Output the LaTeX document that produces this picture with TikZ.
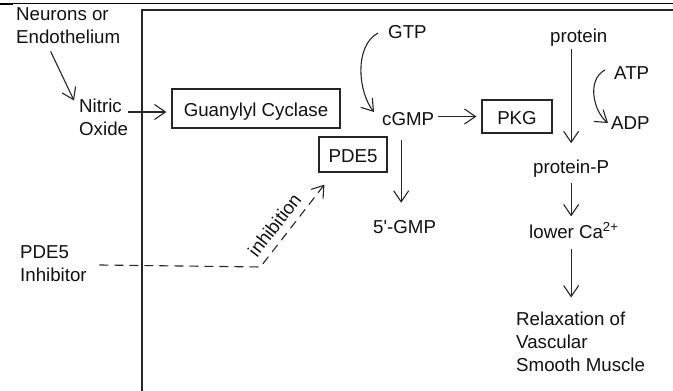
\documentclass[tikz,border=0pt]{standalone}
\usepackage{fontspec}
\setmainfont{Liberation Sans}
\usetikzlibrary{arrows.meta,calc}
\definecolor{tc}{HTML}{111111}
\definecolor{lc}{HTML}{262626}
\newcommand\dgfont{\fontsize{18.7}{23.3}\selectfont}
\begin{document}
\begin{tikzpicture}[x=1pt,y=-1pt,
  every node/.style={font=\dgfont,text=tc},
  txt/.style={inner sep=0pt,anchor=base west},
  boxn/.style={draw=lc,line width=1.1pt,inner sep=0pt,text height=15.5pt,text depth=0pt},
  arr/.style={draw=lc,line width=1.1pt,-{Straight Barb[length=11pt,width=15pt]}},
  dasharr/.style={arr,dash pattern=on 9pt off 6pt},
  ]
\useasboundingbox (0,0) rectangle (673,391);
% frame lines
\draw[black,line width=0.9pt] (0,3.5) -- (673,3.5);
\draw[black,line width=2pt] (0,3.5) -- (13,3.5);
\draw[lc,line width=1.4pt] (142,391) -- (142,10) -- (673,10);

% text nodes
\node[txt] (neurons) at (16,20) {\begin{tabular}[t]{@{}l@{}}Neurons or\\Endothelium\end{tabular}};
\node[txt] (nitric) at (79,112) {\begin{tabular}[t]{@{}l@{}}Nitric\\Oxide\end{tabular}};
\node[txt] (gtp) at (388,38) {GTP};
\node[txt] (cgmp) at (382,125) {cGMP};
\node[txt] (protein) at (550,42) {protein};
\node[txt] (atp) at (614,79) {ATP};
\node[txt] (adp) at (611,129) {ADP};
\node[txt] (protp) at (533,173) {protein-P};
\node[txt] (gmp5) at (373,233) {5\textquotesingle-GMP};
\node[txt] (lowca) at (529,238) {lower Ca\textsuperscript{2+}};
\node[txt] (relax) at (516,325) {\begin{tabular}[t]{@{}l@{}}Relaxation of\\Vascular\\Smooth Muscle\end{tabular}};
\node[txt] (inhib) at (20,258) {\begin{tabular}[t]{@{}l@{}}PDE5\\Inhibitor\end{tabular}};

% boxes
\node[boxn,minimum width=168pt,minimum height=39pt] (gc) at (256,108.5) {Guanylyl Cyclase};
\node[boxn,minimum width=70pt,minimum height=33pt] (pkg) at (517,116.5) {PKG};
\node[boxn,minimum width=68pt,minimum height=35pt] (pde) at (353,154.5) {PDE5};

% connectors
\draw[arr,shorten <=1pt] ([xshift=-18pt]neurons.south) -- ([shift={(-5,5)}]nitric.north west);
\draw[arr,shorten >=5pt] (nitric.base east) -- (nitric.base east -| gc.west);
\draw[arr] ([shift={(-10,-5)}]gtp.base west) .. controls +(-24,13) and +(-16,-20) .. ([shift={(-8,-13)}]cgmp.base west);
\draw[arr,shorten <=4pt,shorten >=5pt] (cgmp.base east |- pkg.west) -- (pkg.west);
\draw[arr,shorten <=15pt,shorten >=17pt] ([xshift=-7pt]cgmp.south) -- ([xshift=-7pt]cgmp.south |- gmp5.north);
\draw[arr,shorten <=3pt,shorten >=16pt] (protp.north |- protein.south) -- (protp.north);
\draw[arr,shorten <=6pt,shorten >=6pt] (protp.south) -- (protp.south |- lowca.north);
\draw[arr,shorten <=11pt,shorten >=11pt] (protp.south |- lowca.south) -- (protp.south |- relax.north);
\draw[arr] ([shift={(-9,-9)}]atp.base west) .. controls +(-19,10) and +(-14,-11) .. ([shift={(-3,-6)}]adp.base west);
\draw[dasharr] (inhib.east) ++(12.5,0) -- ++(161,2)
  -- node[sloped,above=4pt,pos=0.4] (inhlab) {inhibition} ([shift={(6,12)}]pde.south west);
\end{tikzpicture}
\end{document}
